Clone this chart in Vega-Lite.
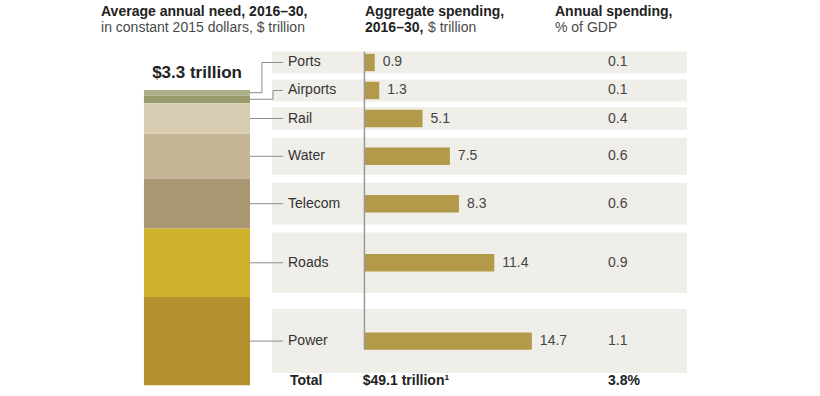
{
  "$schema": "https://vega.github.io/schema/vega-lite/v6.json",
  "width": 820,
  "height": 396,
  "autosize": {"type": "fit", "contains": "padding"},
  "padding": 0,
  "background": "white",
  "config": {"view": {"stroke": null}, "font": "Liberation Sans", "text": {"font": "Liberation Sans", "color": "#333333"}},
  "datasets": {
    "rows": [
      {"sector": "Ports", "spend": 0.9, "pct": 0.1},
      {"sector": "Airports", "spend": 1.3, "pct": 0.1},
      {"sector": "Rail", "spend": 5.1, "pct": 0.4},
      {"sector": "Water", "spend": 7.5, "pct": 0.6},
      {"sector": "Telecom", "spend": 8.3, "pct": 0.6},
      {"sector": "Roads", "spend": 11.4, "pct": 0.9},
      {"sector": "Power", "spend": 14.7, "pct": 1.1}
    ],
    "totals": [
      {"label": "Total", "aggregate": "$49.1 trillion¹", "pct": "3.8%", "annual": "$3.3 trillion"}
    ]
  },
  "layer": [
    {
      "data": {"name": "rows"},
      "transform": [
        {"window": [{"op": "row_number", "as": "i"}]},
        {"stack": "spend", "groupby": [], "sort": [{"field": "i", "order": "ascending"}], "as": ["y0", "y1"]},
        {"calculate": "(datum.y0 + datum.y1) / 2", "as": "mid"},
        {"calculate": "datum.mid - 4.667 * datum.i", "as": "w"},
        {"window": [{"op": "min", "field": "w", "as": "wmin"}], "sort": [{"field": "i", "order": "ascending"}], "frame": [0, null]},
        {"calculate": "datum.wmin + 4.667 * datum.i", "as": "lab"},
        {"calculate": "clamp(datum.y1 - datum.y0 - 1.333, 3.667, 10.667)", "as": "bandH"},
        {"calculate": "datum.lab - datum.bandH / 2", "as": "bandTop"},
        {"calculate": "datum.lab + datum.bandH / 2", "as": "bandBot"},
        {"calculate": "datum.lab - 1.45", "as": "barTop"},
        {"calculate": "datum.lab + 1.45", "as": "barBot"},
        {"calculate": "datum.i == 2 ? -8.03 : -9.0", "as": "elbowX"},
        {"calculate": "-19.36", "as": "stackL"},
        {"calculate": "-10.05", "as": "stackR"},
        {"calculate": "-8.12", "as": "bandL"},
        {"calculate": "28.32", "as": "bandR"},
        {"calculate": "-7.15", "as": "connEnd"},
        {"calculate": "0", "as": "base"},
        {"joinaggregate": [{"op": "min", "field": "bandTop", "as": "axisTop"}, {"op": "max", "field": "barBot", "as": "axisBot"}]}
      ],
      "layer": [
        {
          "mark": {"type": "rect", "color": "#efeee8"},
          "encoding": {
            "x": {"field": "bandL", "type": "quantitative", "scale": {"domain": [-32, 40], "nice": false, "zero": false}, "axis": null},
            "x2": {"field": "bandR"},
            "y": {"field": "bandTop", "type": "quantitative", "scale": {"domain": [-15, 51], "reverse": true, "nice": false, "zero": false}, "axis": null},
            "y2": {"field": "bandBot"}
          }
        },
        {
          "mark": {"type": "rect"},
          "encoding": {
            "x": {"field": "stackL", "type": "quantitative", "scale": {"domain": [-32, 40], "nice": false, "zero": false}, "axis": null},
            "x2": {"field": "stackR"},
            "y": {"field": "y0", "type": "quantitative", "scale": {"domain": [-15, 51], "reverse": true, "nice": false, "zero": false}, "axis": null},
            "y2": {"field": "y1"},
            "color": {"field": "sector", "type": "nominal", "legend": null,
              "scale": {"domain": ["Ports", "Airports", "Rail", "Water", "Telecom", "Roads", "Power"],
                        "range": ["#abae86", "#9a9b6d", "#d7ccb2", "#c4b596", "#a99672", "#cfb22c", "#b3912f"]}}
          }
        },
        {
          "mark": {"type": "rule", "color": "#8c8c8c", "strokeWidth": 1},
          "encoding": {
            "x": {"field": "stackR", "type": "quantitative", "scale": {"domain": [-32, 40], "nice": false, "zero": false}, "axis": null},
            "x2": {"field": "elbowX"},
            "y": {"field": "mid", "type": "quantitative", "scale": {"domain": [-15, 51], "reverse": true, "nice": false, "zero": false}, "axis": null}
          }
        },
        {
          "mark": {"type": "rule", "color": "#8c8c8c", "strokeWidth": 1},
          "encoding": {
            "x": {"field": "elbowX", "type": "quantitative", "scale": {"domain": [-32, 40], "nice": false, "zero": false}, "axis": null},
            "y": {"field": "mid", "type": "quantitative", "scale": {"domain": [-15, 51], "reverse": true, "nice": false, "zero": false}, "axis": null},
            "y2": {"field": "lab"}
          }
        },
        {
          "mark": {"type": "rule", "color": "#8c8c8c", "strokeWidth": 1},
          "encoding": {
            "x": {"field": "elbowX", "type": "quantitative", "scale": {"domain": [-32, 40], "nice": false, "zero": false}, "axis": null},
            "x2": {"field": "connEnd"},
            "y": {"field": "lab", "type": "quantitative", "scale": {"domain": [-15, 51], "reverse": true, "nice": false, "zero": false}, "axis": null}
          }
        },
        {
          "mark": {"type": "text", "align": "left", "baseline": "middle", "fontSize": 14, "color": "#333333", "dx": 5},
          "encoding": {
            "x": {"field": "connEnd", "type": "quantitative", "scale": {"domain": [-32, 40], "nice": false, "zero": false}, "axis": null},
            "y": {"field": "lab", "type": "quantitative", "scale": {"domain": [-15, 51], "reverse": true, "nice": false, "zero": false}, "axis": null},
            "text": {"field": "sector", "type": "nominal"}
          }
        },
        {
          "mark": {"type": "rect", "color": "#b39a4a"},
          "encoding": {
            "x": {"field": "base", "type": "quantitative", "scale": {"domain": [-32, 40], "nice": false, "zero": false}, "axis": null},
            "x2": {"field": "spend"},
            "y": {"field": "barTop", "type": "quantitative", "scale": {"domain": [-15, 51], "reverse": true, "nice": false, "zero": false}, "axis": null},
            "y2": {"field": "barBot"}
          }
        },
        {
          "mark": {"type": "text", "align": "left", "baseline": "middle", "dx": 8, "fontSize": 14, "color": "#444444"},
          "encoding": {
            "x": {"field": "spend", "type": "quantitative", "scale": {"domain": [-32, 40], "nice": false, "zero": false}, "axis": null},
            "y": {"field": "lab", "type": "quantitative", "scale": {"domain": [-15, 51], "reverse": true, "nice": false, "zero": false}, "axis": null},
            "text": {"field": "spend", "type": "quantitative", "format": ".1f"}
          }
        },
        {
          "mark": {"type": "text", "align": "left", "baseline": "middle", "fontSize": 14, "color": "#444444", "dx": -4},
          "encoding": {
            "x": {"field": "bandR", "type": "quantitative", "scale": {"domain": [-32, 40], "nice": false, "zero": false}, "axis": null},
            "y": {"field": "lab", "type": "quantitative", "scale": {"domain": [-15, 51], "reverse": true, "nice": false, "zero": false}, "axis": null},
            "xOffset": {"value": -75},
            "text": {"field": "pct", "type": "quantitative", "format": ".1f"}
          }
        },
        {
          "transform": [{"filter": "datum.i == 1"}],
          "mark": {"type": "rule", "color": "#999999", "strokeWidth": 1.5},
          "encoding": {
            "x": {"field": "base", "type": "quantitative", "scale": {"domain": [-32, 40], "nice": false, "zero": false}, "axis": null},
            "y": {"field": "axisTop", "type": "quantitative", "scale": {"domain": [-15, 51], "reverse": true, "nice": false, "zero": false}, "axis": null},
            "y2": {"field": "axisBot"}
          }
        }
      ]
    },
    {
      "data": {"name": "totals"},
      "layer": [
        {
          "mark": {"type": "text", "align": "left", "baseline": "alphabetic", "fontSize": 14, "fontWeight": "bold", "color": "#222222"},
          "encoding": {
            "x": {"datum": -6.54, "type": "quantitative", "scale": {"domain": [-32, 40], "nice": false, "zero": false}, "axis": null},
            "y": {"datum": 49.1, "type": "quantitative", "scale": {"domain": [-15, 51], "reverse": true, "nice": false, "zero": false}, "axis": null},
            "text": {"field": "label", "type": "nominal"}
          }
        },
        {
          "mark": {"type": "text", "align": "left", "baseline": "alphabetic", "fontSize": 14, "fontWeight": "bold", "color": "#222222"},
          "encoding": {
            "x": {"datum": -0.15, "type": "quantitative", "scale": {"domain": [-32, 40], "nice": false, "zero": false}, "axis": null},
            "y": {"datum": 49.1, "type": "quantitative", "scale": {"domain": [-15, 51], "reverse": true, "nice": false, "zero": false}, "axis": null},
            "text": {"field": "aggregate", "type": "nominal"}
          }
        },
        {
          "mark": {"type": "text", "align": "left", "baseline": "alphabetic", "fontSize": 14, "fontWeight": "bold", "color": "#222222"},
          "encoding": {
            "x": {"datum": 21.39, "type": "quantitative", "scale": {"domain": [-32, 40], "nice": false, "zero": false}, "axis": null},
            "y": {"datum": 49.1, "type": "quantitative", "scale": {"domain": [-15, 51], "reverse": true, "nice": false, "zero": false}, "axis": null},
            "text": {"field": "pct", "type": "nominal"}
          }
        },
        {
          "mark": {"type": "text", "align": "center", "baseline": "alphabetic", "fontSize": 17, "fontWeight": "bold", "color": "#222222"},
          "encoding": {
            "x": {"datum": -14.7, "type": "quantitative", "scale": {"domain": [-32, 40], "nice": false, "zero": false}, "axis": null},
            "y": {"datum": -2.0, "type": "quantitative", "scale": {"domain": [-15, 51], "reverse": true, "nice": false, "zero": false}, "axis": null},
            "text": {"field": "annual", "type": "nominal"}
          }
        },
        {
          "mark": {"type": "text", "align": "left", "baseline": "alphabetic", "fontSize": 14, "fontWeight": "bold", "color": "#222222", "text": "Average annual need, 2016–30,"},
          "encoding": {
            "x": {"datum": -23.13, "type": "quantitative", "scale": {"domain": [-32, 40], "nice": false, "zero": false}, "axis": null},
            "y": {"datum": -12.33, "type": "quantitative", "scale": {"domain": [-15, 51], "reverse": true, "nice": false, "zero": false}, "axis": null}
          }
        },
        {
          "mark": {"type": "text", "align": "left", "baseline": "alphabetic", "fontSize": 14, "color": "#4a4a4a", "text": "in constant 2015 dollars, $ trillion"},
          "encoding": {
            "x": {"datum": -23.13, "type": "quantitative", "scale": {"domain": [-32, 40], "nice": false, "zero": false}, "axis": null},
            "y": {"datum": -9.67, "type": "quantitative", "scale": {"domain": [-15, 51], "reverse": true, "nice": false, "zero": false}, "axis": null}
          }
        },
        {
          "mark": {"type": "text", "align": "left", "baseline": "alphabetic", "fontSize": 14, "fontWeight": "bold", "color": "#222222", "text": "Aggregate spending,"},
          "encoding": {
            "x": {"datum": 0.05, "type": "quantitative", "scale": {"domain": [-32, 40], "nice": false, "zero": false}, "axis": null},
            "y": {"datum": -12.33, "type": "quantitative", "scale": {"domain": [-15, 51], "reverse": true, "nice": false, "zero": false}, "axis": null}
          }
        },
        {
          "mark": {"type": "text", "align": "left", "baseline": "alphabetic", "fontSize": 14, "fontWeight": "bold", "color": "#222222", "text": "2016–30,"},
          "encoding": {
            "x": {"datum": 0.05, "type": "quantitative", "scale": {"domain": [-32, 40], "nice": false, "zero": false}, "axis": null},
            "y": {"datum": -9.67, "type": "quantitative", "scale": {"domain": [-15, 51], "reverse": true, "nice": false, "zero": false}, "axis": null}
          }
        },
        {
          "mark": {"type": "text", "align": "left", "baseline": "alphabetic", "fontSize": 14, "color": "#4a4a4a", "text": "$ trillion"},
          "encoding": {
            "x": {"datum": 5.58, "type": "quantitative", "scale": {"domain": [-32, 40], "nice": false, "zero": false}, "axis": null},
            "y": {"datum": -9.67, "type": "quantitative", "scale": {"domain": [-15, 51], "reverse": true, "nice": false, "zero": false}, "axis": null}
          }
        },
        {
          "mark": {"type": "text", "align": "left", "baseline": "alphabetic", "fontSize": 14, "fontWeight": "bold", "color": "#222222", "text": "Annual spending,"},
          "encoding": {
            "x": {"datum": 16.73, "type": "quantitative", "scale": {"domain": [-32, 40], "nice": false, "zero": false}, "axis": null},
            "y": {"datum": -12.33, "type": "quantitative", "scale": {"domain": [-15, 51], "reverse": true, "nice": false, "zero": false}, "axis": null}
          }
        },
        {
          "mark": {"type": "text", "align": "left", "baseline": "alphabetic", "fontSize": 14, "color": "#4a4a4a", "text": "% of GDP"},
          "encoding": {
            "x": {"datum": 16.73, "type": "quantitative", "scale": {"domain": [-32, 40], "nice": false, "zero": false}, "axis": null},
            "y": {"datum": -9.67, "type": "quantitative", "scale": {"domain": [-15, 51], "reverse": true, "nice": false, "zero": false}, "axis": null}
          }
        }
      ]
    }
  ]
}
